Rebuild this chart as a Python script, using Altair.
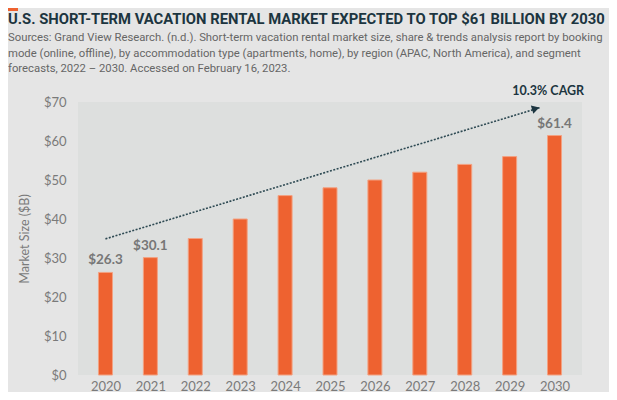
import altair as alt
import pandas as pd

# ---------------- data ----------------
years = [2020, 2021, 2022, 2023, 2024, 2025, 2026, 2027, 2028, 2029, 2030]
values = [26.3, 30.1, 35, 40, 46, 48, 50, 52, 54, 56, 61.4]
value_labels = ["$26.3", "$30.1", "", "", "", "", "", "", "", "", "$61.4"]

trend_years = [2020, 2029.69]
trend_values = [34.9, 68.6]
arrow_year = [2029.58]
arrow_value = [68.3]

cagr_text = ["10.3% CAGR"]
cagr_year = [2029.86]
cagr_value = [72.8]

y_ticks = [0, 10, 20, 30, 40, 50, 60, 70]

title_text = ["U.S. SHORT-TERM VACATION RENTAL MARKET EXPECTED TO TOP $61 BILLION BY 2030"]
subtitle_lines = [
    "Sources: Grand View Research. (n.d.). Short-term vacation rental market size, share & trends analysis report by booking",
    "mode (online, offline), by accommodation type (apartments, home), by region (APAC, North America), and segment",
    "forecasts, 2022 \u2013 2030. Accessed on February 16, 2023.",
]

# ---------------- tables ----------------
bars_df = pd.DataFrame({"year": years, "value": values, "label": value_labels})
trend_df = pd.DataFrame({"year": trend_years, "value": trend_values})
arrow_df = pd.DataFrame({"year": arrow_year, "value": arrow_value})
cagr_df = pd.DataFrame({"year": cagr_year, "value": cagr_value, "text": cagr_text})
title_df = pd.DataFrame({"text": title_text})
sub_df = pd.DataFrame({"text": ["\n".join(subtitle_lines)]})
accent_df = pd.DataFrame({"k": [0]})

FONT = "Lato"
HEAD = "Roboto"

TOP = 94  # plot area top inside svg

xscale = alt.Scale(domain=[2019.5, 2030.5], nice=False, zero=False)
yscale = alt.Scale(domain=[0, 70], nice=False)

x_enc = alt.X("year:Q", scale=xscale,
              axis=alt.Axis(values=years, format="d", title=None, labelFlush=False,
                            labelOverlap=False, labelPadding=5, tickSize=0))
y_enc = alt.Y("value:Q", scale=yscale,
              axis=alt.Axis(values=y_ticks, labelExpr="'$' + datum.value",
                            labelOverlap=False, tickCount=8,
                            title="Market Size ($B)", labelPadding=12, tickSize=0,
                            titlePadding=12))

bars = alt.Chart(bars_df).mark_bar(size=14, color="#ee6230", stroke="#f3a282",
                                   strokeWidth=1).encode(x=x_enc, y=y_enc)

labels = alt.Chart(bars_df).transform_filter("datum.label != ''").mark_text(
    font=FONT, fontSize=13.5, fontWeight="bold", color="#777777",
    baseline="bottom", dy=-5
).encode(x=x_enc, y=y_enc, text="label:N")

trend = alt.Chart(trend_df).mark_line(
    strokeDash=[2, 1.5], strokeWidth=1.6, color="#2e4a53"
).encode(x=x_enc, y=y_enc)

arrow = alt.Chart(arrow_df).mark_point(
    shape="triangle-up", filled=True, size=75, angle=73.6, color="#1c3540", opacity=1
).encode(x=x_enc, y=y_enc)

cagr = alt.Chart(cagr_df).mark_text(
    font=FONT, fontSize=12.5, fontWeight="bold", color="#1c3540", baseline="middle"
).encode(x=x_enc, y=y_enc, text="text:N")

accent = alt.Chart(accent_df).mark_rect(color="#ee6230").encode(
    x=alt.value(-70), x2=alt.value(-60), y=alt.value(-TOP), y2=alt.value(-TOP + 3)
)

title = alt.Chart(title_df).mark_text(
    font=HEAD, fontSize=14.8, fontWeight="bold", color="#1c3540",
    align="left", baseline="alphabetic"
).encode(x=alt.value(-70), y=alt.value(24 - 8 - TOP), text="text:N")

subtitle = alt.Chart(sub_df).mark_text(
    font=HEAD, fontSize=11.3, color="#666666", align="left", baseline="alphabetic",
    lineBreak="\n", lineHeight=15.5
).encode(x=alt.value(-70), y=alt.value(41 - 8 - TOP), text="text:N")

chart = alt.layer(bars, labels, trend, arrow, cagr, accent, title, subtitle).properties(
    width=504,
    height=273,
    background="#e5e5e5",
    autosize=alt.AutoSizeParams(type="none"),
    padding={"left": 70, "top": TOP, "right": 27, "bottom": 17},
).configure_view(
    fill="#dddfde", stroke=None
).configure_axis(
    domain=False, ticks=False, grid=False,
    labelColor="#7a7a7a", labelFont=FONT, labelFontSize=13,
    titleColor="#7a7a7a", titleFont=FONT, titleFontSize=12.5, titleFontWeight="normal",
)

chart.save("out.html", embed_options={"renderer": "svg", "actions": False})
